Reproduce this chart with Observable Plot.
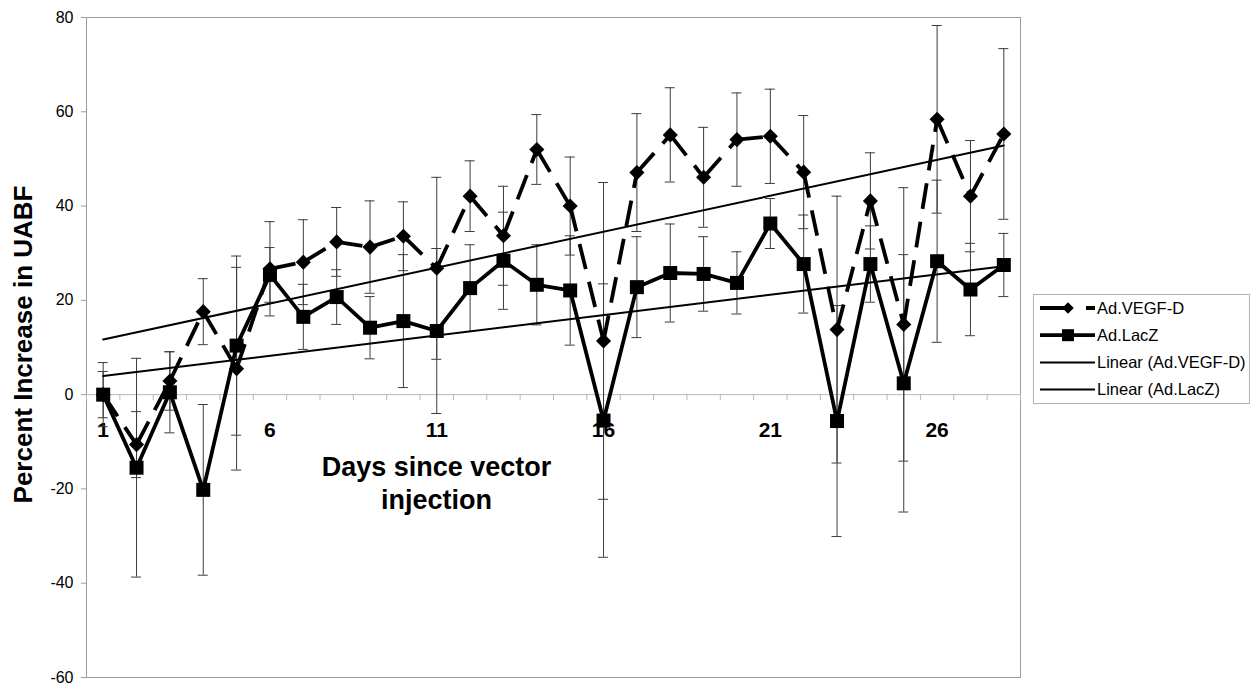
<!DOCTYPE html>
<html>
<head>
<meta charset="utf-8">
<script src="https://cdn.jsdelivr.net/npm/d3@7"></script>
<script src="https://cdn.jsdelivr.net/npm/@observablehq/plot@0.6"></script>
<style>
  body { margin: 0; background: #fff; font-family: "Liberation Sans", Arial, sans-serif; }
  #wrap { position: relative; width: 1252px; height: 686px; overflow: hidden; }
  #legend { position: absolute; left: 1033px; top: 294px; }
</style>
</head>
<body>
<div id="wrap"><div id="chart"></div><div id="legend"></div></div>
<script>
// ---- data ----
const days = [1, 2, 3, 4, 5, 6, 7, 8, 9, 10, 11, 12, 13, 14, 15, 16, 17, 18, 19, 20, 21, 22, 23, 24, 25, 26, 27, 28];
const vegfMean = [0, -10.6, 2.9, 17.6, 5.5, 26.7, 28.1, 32.4, 31.3, 33.6, 26.8, 42.1, 33.7, 52.0, 40.0, 11.4, 47.1, 55.1, 46.1, 54.1, 54.8, 47.2, 13.8, 41.1, 14.9, 58.4, 42.1, 55.3];
const vegfErr  = [6.8, 7.0, 6.2, 7.0, 21.5, 10.0, 9.0, 7.3, 9.8, 7.3, 19.3, 7.5, 10.5, 7.4, 10.4, 33.6, 12.5, 10.0, 10.6, 9.9, 10.0, 12.0, 28.3, 10.2, 29.0, 19.9, 11.8, 18.1];
const laczMean = [0, -15.5, 0.5, -20.2, 10.4, 25.4, 16.5, 20.7, 14.2, 15.6, 13.5, 22.6, 28.4, 23.3, 22.1, -5.5, 22.8, 25.8, 25.6, 23.7, 36.3, 27.7, -5.6, 27.7, 2.4, 28.3, 22.3, 27.5];
const laczErr  = [4.9, 23.2, 8.6, 18.1, 19.0, 5.8, 6.9, 5.8, 6.6, 14.1, 17.5, 9.2, 10.3, 8.5, 11.6, 29.0, 10.7, 10.4, 7.9, 6.6, 5.3, 10.4, 24.5, 8.1, 27.3, 17.2, 9.8, 6.7];
const yTicks = [-60, -40, -20, 0, 20, 40, 60, 80];
const xTickLabels = [1, 6, 11, 16, 21, 26];
const seriesNames = ["Ad.VEGF-D", "Ad.LacZ"];
const trendNames = ["Linear (Ad.VEGF-D)", "Linear (Ad.LacZ)"];
const yTitle = "Percent Increase in UABF";
const xTitle = "Days since vector\ninjection";

// ---- derived tables ----
const vegf = days.map((d, i) => ({day: d, value: vegfMean[i], err: vegfErr[i]}));
const lacz = days.map((d, i) => ({day: d, value: laczMean[i], err: laczErr[i]}));
const both = vegf.concat(lacz);
const vegfSegs = vegf.slice(1).map((d, i) => ({x1: vegf[i].day, y1: vegf[i].value, x2: d.day, y2: d.value}));
const bounds = [days[0] - 0.5].concat(days.map(d => d + 0.5));
const FONT = '"Liberation Sans", Arial, sans-serif';
const DASH = "26,13";

const chart = Plot.plot({
  width: 1252, height: 686,
  marginLeft: 86, marginTop: 17, marginRight: 232, marginBottom: 9,
  style: {fontFamily: FONT, background: "white", color: "black", overflow: "visible"},
  x: {type: "linear", domain: [days[0] - 0.5, days[days.length - 1] + 0.5], axis: null},
  y: {domain: [yTicks[0], yTicks[yTicks.length - 1]], axis: null},
  marks: [
    Plot.frame({stroke: "#9c9c9c"}),
    Plot.ruleY([0], {stroke: "#b8b8b8"}),
    Plot.ruleX(bounds, {x: d => d, y1: 0, y2: 0, insetBottom: -6, stroke: "#b8b8b8"}),
    Plot.axisY({ticks: yTicks, tickSize: 5, tickPadding: 8, tickFormat: d => String(d), fontSize: 16, stroke: "#9c9c9c", fill: "black", label: null}),
    Plot.text(xTickLabels, {x: d => d, y: 0, dy: 36, lineAnchor: "middle", textAnchor: "middle", fontSize: 21, fontWeight: "bold", fill: "black"}),
    Plot.text([yTitle], {frameAnchor: "left", rotate: -90, textAnchor: "middle", lineAnchor: "middle", dx: -63, dy: -3, fontSize: 26, fontWeight: "bold", fill: "black"}),
    Plot.text([xTitle], {frameAnchor: "top-left", textAnchor: "middle", lineAnchor: "middle", dx: 350, dy: 464, fontSize: 27, fontWeight: "bold", lineHeight: 1.22, fill: "black"}),
    // error bars
    Plot.ruleX(both, {x: "day", y1: d => d.value - d.err, y2: d => d.value + d.err, stroke: "#3c3c3c", strokeWidth: 1}),
    Plot.ruleY(both, {y: d => d.value + d.err, x1: "day", x2: "day", insetLeft: -5, insetRight: -5, stroke: "#3c3c3c", strokeWidth: 1}),
    Plot.ruleY(both, {y: d => d.value - d.err, x1: "day", x2: "day", insetLeft: -5, insetRight: -5, stroke: "#3c3c3c", strokeWidth: 1}),
    // Ad.VEGF-D dashed line with diamonds
    Plot.link(vegfSegs, {x1: "x1", y1: "y1", x2: "x2", y2: "y2", stroke: "black", strokeWidth: 3.8, strokeDasharray: DASH}),
    Plot.dot(vegf, {x: "day", y: "value", symbol: "diamond2", r: 6.8, fill: "black", stroke: "none"}),
    // Ad.LacZ solid line with squares
    Plot.line(lacz, {x: "day", y: "value", stroke: "black", strokeWidth: 3.8}),
    Plot.dot(lacz, {x: "day", y: "value", symbol: "square", r: 7.9, fill: "black", stroke: "none"}),
    // linear trendlines
    Plot.linearRegressionY(vegf, {x: "day", y: "value", ci: 0, stroke: "black", strokeWidth: 2}),
    Plot.linearRegressionY(lacz, {x: "day", y: "value", ci: 0, stroke: "black", strokeWidth: 2})
  ]
});
document.getElementById("chart").appendChild(chart);

// ---- legend ----
const entries = [
  {name: seriesNames[0], kind: "vegf"},
  {name: seriesNames[1], kind: "lacz"},
  {name: trendNames[0], kind: "trend"},
  {name: trendNames[1], kind: "trend"}
];
const lg = d3.select("#legend").append("svg").attr("width", 218).attr("height", 111)
  .style("font-family", FONT);
lg.append("rect").attr("x", 0.5).attr("y", 0.5).attr("width", 216).attr("height", 109)
  .attr("fill", "white").attr("stroke", "#b4b4b4");
entries.forEach((e, i) => {
  const y = 14 + i * 27.2;
  const g = lg.append("g");
  if (e.kind === "vegf") {
    g.append("line").attr("x1", 7).attr("x2", 62).attr("y1", y).attr("y2", y)
      .attr("stroke", "black").attr("stroke-width", 3.8).attr("stroke-dasharray", "29,17");
    g.append("path").attr("d", d3.symbol(d3.symbolDiamond2, Math.PI * 5.2 * 5.2)()).attr("transform", `translate(35,${y})`);
  } else if (e.kind === "lacz") {
    g.append("line").attr("x1", 7).attr("x2", 62).attr("y1", y).attr("y2", y)
      .attr("stroke", "black").attr("stroke-width", 3.8);
    g.append("rect").attr("x", 29).attr("y", y - 6).attr("width", 12).attr("height", 12).attr("fill", "black");
  } else {
    g.append("line").attr("x1", 7).attr("x2", 62).attr("y1", y).attr("y2", y)
      .attr("stroke", "black").attr("stroke-width", 2);
  }
  g.append("text").attr("x", 64).attr("y", y).attr("dy", "0.35em")
    .attr("font-size", 16.5).attr("fill", "black").text(e.name);
});
</script>
</body>
</html>
